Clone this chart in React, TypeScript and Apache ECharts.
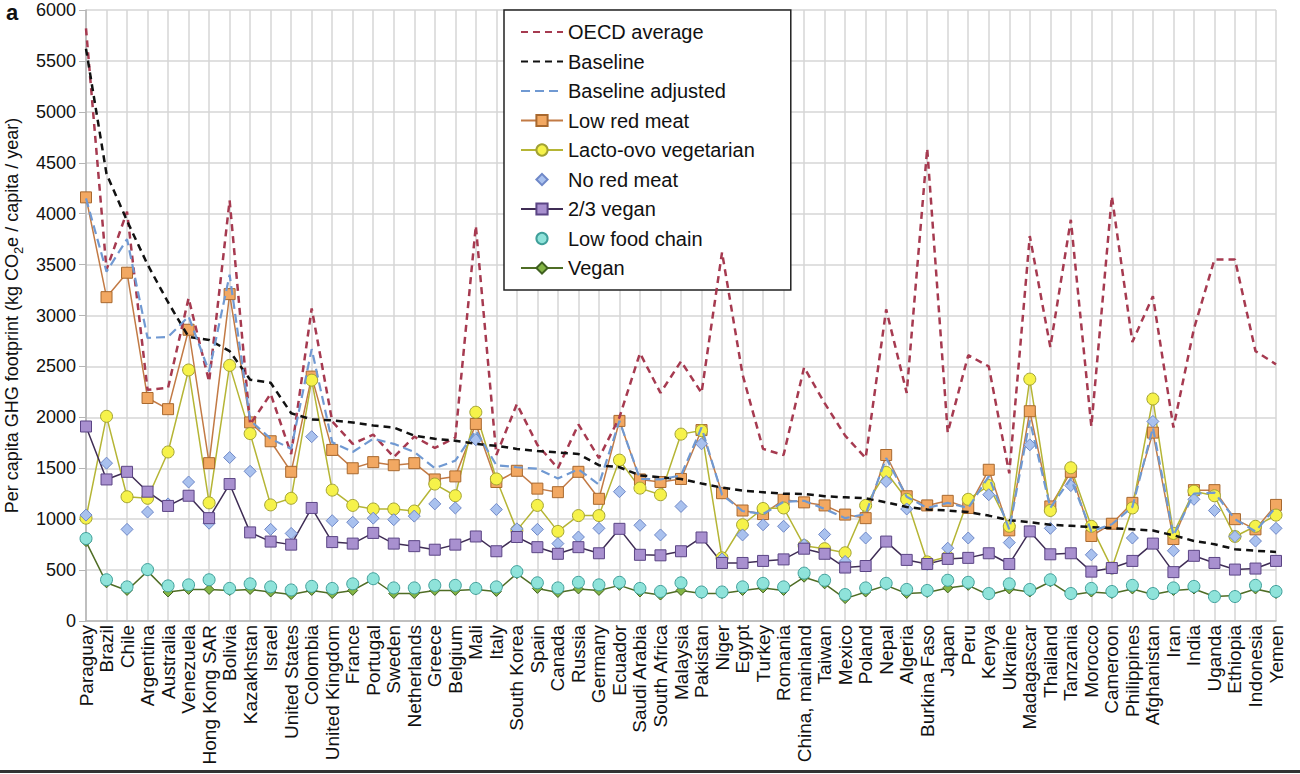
import React, { useEffect, useRef } from "react";
import * as echarts from "echarts";

const countries = [
  "Paraguay", "Brazil", "Chile", "Argentina", "Australia", "Venezuela", "Hong Kong SAR", "Bolivia",
  "Kazakhstan", "Israel", "United States", "Colombia", "United Kingdom", "France", "Portugal", "Sweden",
  "Netherlands", "Greece", "Belgium", "Mali", "Italy", "South Korea", "Spain", "Canada", "Russia",
  "Germany", "Ecuador", "Saudi Arabia", "South Africa", "Malaysia", "Pakistan", "Niger", "Egypt",
  "Turkey", "Romania", "China, mainland", "Taiwan", "Mexico", "Poland", "Nepal", "Algeria",
  "Burkina Faso", "Japan", "Peru", "Kenya", "Ukraine", "Madagascar", "Thailand", "Tanzania",
  "Morocco", "Cameroon", "Philippines", "Afghanistan", "Iran", "India", "Uganda", "Ethiopia",
  "Indonesia", "Yemen",
];

const oecdAverage = [
  5820, 3450, 4020, 2270, 2290, 3170, 2350, 4130, 1930, 2230, 1640, 3070, 1960, 1740, 1830, 1610,
  1810, 1700, 1800, 3880, 1630, 2130, 1730, 1500, 1930, 1600, 2000, 2630, 2240, 2550, 2240, 3620,
  2420, 1690, 1630, 2490, 2140, 1820, 1600, 3060, 2240, 4640, 1850, 2610, 2500, 1450, 3780, 2690,
  3940, 1910, 4170, 2740, 3190, 1900, 2870, 3550, 3550, 2650, 2520,
];

const baseline = [
  5620, 4390, 3930, 3500, 3130, 2790, 2760, 2650, 2370, 2340, 2040, 1980, 1970, 1950, 1920, 1900,
  1820, 1790, 1770, 1740, 1720, 1690, 1670, 1655, 1640, 1530, 1510, 1430, 1410, 1395, 1350, 1310,
  1280, 1265, 1250, 1248, 1225, 1215, 1205, 1165, 1120, 1095, 1085, 1070, 1035, 990, 970, 945,
  935, 922, 912, 900, 888, 842, 786, 754, 705, 690, 678,
];

const baselineAdjusted = [
  4150, 3430, 3750, 2780, 2790, 2990, 2450, 3400, 1970, 1790, 1690, 2670, 1755, 1660, 1790, 1740,
  1660, 1500, 1575, 1870, 1530, 1510, 1495, 1400, 1490, 1340, 1965, 1395, 1390, 1430, 1900, 1240,
  1080, 1050, 1170, 1180, 1100, 1010, 1050, 1600, 1220, 1110, 1160, 1110, 1420, 900, 1970, 1110,
  1400, 880, 950, 1120, 1900, 840, 1250, 1260, 1000, 880, 1120,
];

const lowRedMeat = [
  4160, 3180, 3420, 2190, 2080, 2860, 1550, 3210, 1950, 1765, 1465, 2400, 1680, 1500, 1560, 1530,
  1550, 1390, 1420, 1935, 1365, 1475, 1300, 1265, 1465, 1200, 1965, 1390, 1365, 1395, 1875, 1255,
  1085, 1050, 1190, 1165, 1135, 1045, 1010, 1630, 1225, 1135, 1180, 1110, 1485, 890, 2060, 1125,
  1465, 835, 955, 1160, 1850, 805, 1285, 1285, 1000, 900, 1140,
];

const lactoOvo = [
  1010, 2010, 1220, 1205, 1660, 2465, 1160, 2510, 1840, 1140, 1205, 2365, 1285, 1135, 1100, 1100,
  1080, 1345, 1230, 2050, 1395, 890, 1135, 880, 1035, 1035, 1580, 1305, 1240, 1835, 1870, 620,
  945, 1105, 1110, 740, 710, 670, 1135, 1460, 1195, 580, 630, 1195, 1330, 930, 2375, 1085,
  1505, 930, 520, 1110, 2180, 860, 1275, 1230, 830, 930, 1040,
];

const noRedMeat = [
  1040, 1550, 900, 1070, 1150, 1365, 960, 1605, 1470, 900, 860, 1810, 985, 970, 1010, 995,
  1030, 1150, 1110, 1780, 1095, 905, 900, 760, 825, 910, 1270, 940, 845, 1125, 1740, 610,
  845, 945, 930, 750, 850, 585, 815, 1370, 1100, 555, 715, 815, 1240, 770, 1730, 910,
  1330, 650, 515, 815, 1960, 690, 1195, 1085, 830, 785, 910,
];

const twoThirdsVegan = [
  1910, 1390, 1465, 1270, 1130, 1230, 1010, 1345, 870, 780, 750, 1110, 775, 760, 865, 760,
  735, 700, 750, 830, 685, 825, 725, 660, 725, 665, 905, 650, 645, 685, 820, 570,
  570, 590, 605, 710, 660, 525, 540, 780, 600, 560, 610, 620, 665, 560, 880, 655,
  665, 485, 520, 590, 760, 480, 640, 570, 505, 515, 590,
];

const lowFoodChain = [
  810, 405, 335, 505, 345, 355, 405, 320, 365, 335, 305, 340, 320, 365, 415, 325,
  325, 350, 350, 320, 335, 485, 375, 325, 380, 355, 380, 320, 290, 375, 285, 285,
  335, 370, 335, 470, 400, 260, 325, 370, 310, 300, 400, 380, 270, 365, 310, 405,
  270, 320, 290, 350, 270, 325, 340, 240, 240, 350, 290,
];

const vegan = [
  780, 375, 300, 490, 285, 310, 310, 300, 310, 285, 260, 300, 270, 300, 410, 270,
  270, 300, 300, 310, 290, 465, 320, 280, 315, 300, 350, 285, 255, 300, 270, 270,
  300, 325, 300, 430, 365, 220, 285, 350, 270, 280, 325, 350, 255, 315, 285, 385,
  255, 285, 270, 315, 260, 300, 315, 240, 250, 315, 270,
];

const FONT = "'Liberation Sans', Arial, sans-serif";
const GRID = "#d6d6d6";
const HIDDEN_SYMBOL = { color: "transparent", borderColor: "transparent", borderWidth: 0, opacity: 0 };

export default function App() {
  const ref = useRef<HTMLDivElement>(null);

  useEffect(() => {
    document.body.style.margin = "0";
    if (!ref.current) return;
    const chart = echarts.init(ref.current, undefined, { renderer: "svg" });

    const lineSeries = (
      name: string,
      data: number[],
      lineColor: string,
      fill: string,
      border: string,
      symbol: string,
      size: number,
      z = 2
    ) => ({
      name,
      type: "line",
      data,
      symbol,
      symbolSize: size,
      showSymbol: true,
      z,
      lineStyle: { color: lineColor, width: 1.5 },
      itemStyle: { color: fill, borderColor: border, borderWidth: 1 },
    });

    const markersOnly = (
      name: string,
      data: number[],
      fill: string,
      border: string,
      symbol: string,
      size: number,
      z = 2
    ) => ({
      name,
      type: "line",
      data,
      symbol,
      symbolSize: size,
      showSymbol: true,
      z,
      lineStyle: { opacity: 0, width: 0 },
      itemStyle: { color: fill, borderColor: border, borderWidth: 1 },
    });

    const dashed = (name: string, data: number[], color: string, width: number, dash: number[]) => ({
      name,
      type: "line",
      data,
      symbol: "none",
      lineStyle: { color, width, type: dash },
      itemStyle: { color },
    });

    chart.setOption({
      animation: false,
      textStyle: { fontFamily: FONT },
      grid: {
        left: 86,
        right: 24,
        top: 10,
        bottom: 153,
        containLabel: false,
        outerBoundsMode: "none",
      },
      legend: {
        orient: "vertical",
        left: 504,
        top: 10,
        z: 1,
        padding: [12, 36, 12, 16],
        itemWidth: 42,
        itemHeight: 14,
        itemGap: 9.5,
        backgroundColor: "#ffffff",
        borderColor: "#222222",
        borderWidth: 1.5,
        textStyle: { fontSize: 20, color: "#111", fontFamily: FONT },
        data: [
          { name: "OECD average", itemStyle: HIDDEN_SYMBOL },
          { name: "Baseline", itemStyle: HIDDEN_SYMBOL },
          { name: "Baseline adjusted", itemStyle: HIDDEN_SYMBOL },
          { name: "Low red meat" },
          { name: "Lacto-ovo vegetarian" },
          { name: "No red meat" },
          { name: "2/3 vegan" },
          { name: "Low food chain" },
          { name: "Vegan" },
        ],
      },
      xAxis: {
        type: "category",
        data: countries,
        boundaryGap: false,
        axisLine: { lineStyle: { color: "#b5b5b5", width: 1.5 } },
        axisTick: { show: false },
        axisLabel: {
          rotate: 90,
          interval: 0,
          fontSize: 19,
          color: "#111",
          margin: 4,
          fontFamily: FONT,
        },
        splitLine: { show: true, lineStyle: { color: GRID, width: 1.5 } },
      },
      yAxis: {
        type: "value",
        min: 0,
        max: 6000,
        interval: 500,
        name: "{n|Per capita GHG footprint (kg CO}{s|2}{n|e / capita / year)}",
        nameLocation: "middle",
        nameGap: 60,
        nameTextStyle: {
          fontFamily: FONT,
          rich: {
            n: { fontSize: 18, color: "#111", fontFamily: FONT, lineHeight: 26, verticalAlign: "middle" },
            s: { fontSize: 13, color: "#111", fontFamily: FONT, lineHeight: 26, verticalAlign: "bottom" },
          },
        },
        axisLine: { show: true, lineStyle: { color: "#b5b5b5", width: 1.5 } },
        axisTick: { show: true, length: 7, lineStyle: { color: "#b5b5b5" } },
        axisLabel: {
          fontSize: 18,
          color: "#111",
          margin: 10,
          fontFamily: FONT,
          formatter: (v: number) => String(v),
        },
        splitLine: { show: true, lineStyle: { color: GRID, width: 1.5 } },
      },
      graphic: [
        {
          type: "text",
          left: 6,
          top: 1,
          style: { text: "a", font: `bold 22px ${FONT}`, fill: "#111" },
        },
        {
          type: "rect",
          shape: { x: 0, y: 770, width: 1300, height: 3 },
          style: { fill: "#333" },
        },
      ],
      series: [
        dashed("OECD average", oecdAverage, "#a63a50", 2.5, [7, 5]),
        dashed("Baseline", baseline, "#111111", 2.5, [7, 5]),
        dashed("Baseline adjusted", baselineAdjusted, "#7099d2", 2.2, [9, 5]),
        lineSeries("Low red meat", lowRedMeat, "#c27a45", "#f2a862", "#a8682e", "rect", 11),
        lineSeries("Lacto-ovo vegetarian", lactoOvo, "#b5b535", "#f6f24a", "#a2a232", "circle", 12),
        markersOnly("No red meat", noRedMeat, "#a9c1ee", "#6f88c8", "diamond", 12),
        lineSeries("2/3 vegan", twoThirdsVegan, "#3f2d55", "#a890cf", "#5b4585", "rect", 11),
        markersOnly("Low food chain", lowFoodChain, "#8fe3da", "#3f9f9a", "circle", 12, 3),
        lineSeries("Vegan", vegan, "#4f6d25", "#84b545", "#3f6020", "diamond", 10),
      ],
    });

    return () => chart.dispose();
  }, []);

  return <div ref={ref} style={{ width: 1300, height: 774 }} />;
}
